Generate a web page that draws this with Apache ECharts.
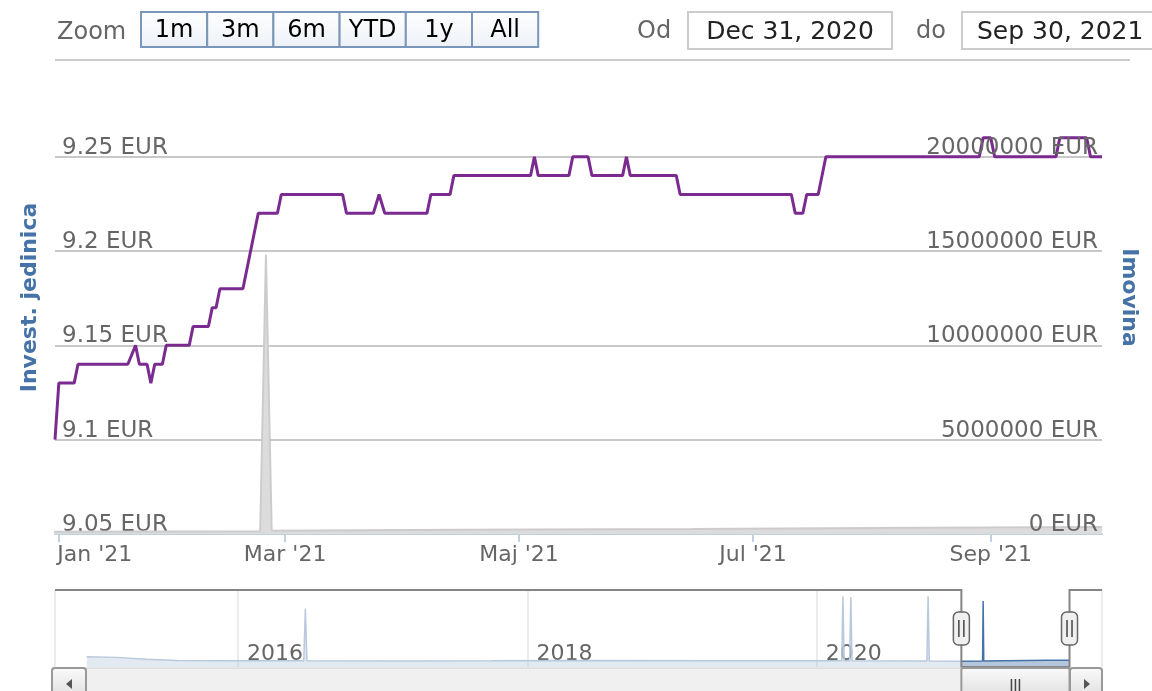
<!DOCTYPE html>
<html>
<head>
<meta charset="utf-8">
<title>Invest. jedinica / Imovina</title>
<script src="https://cdn.jsdelivr.net/npm/echarts@6/dist/echarts.min.js"></script>
<style>
    html, body { margin: 0; padding: 0; background: #fff; }
    #chart { width: 1152px; height: 691px; }
</style>
</head>
<body>
<div id="chart"></div>
<script>
// Values

// Invest. jedinica (EUR) - points where the line turns
const unitDates = ['2020-12-31', '2021-01-01', '2021-01-05', '2021-01-06', '2021-01-19', '2021-01-21', '2021-01-22',
    '2021-01-24', '2021-01-25', '2021-01-26', '2021-01-28', '2021-01-29', '2021-02-04', '2021-02-05', '2021-02-09',
    '2021-02-10', '2021-02-11', '2021-02-12', '2021-02-18', '2021-02-22', '2021-02-27', '2021-02-28', '2021-03-16',
    '2021-03-17', '2021-03-24', '2021-03-25 12:00', '2021-03-27', '2021-04-07', '2021-04-08', '2021-04-13', '2021-04-14',
    '2021-05-04', '2021-05-05', '2021-05-06', '2021-05-14', '2021-05-15', '2021-05-19', '2021-05-20', '2021-05-28',
    '2021-05-29', '2021-05-30', '2021-06-11', '2021-06-12', '2021-07-11', '2021-07-12', '2021-07-14', '2021-07-15',
    '2021-07-18', '2021-07-20', '2021-08-29', '2021-08-30', '2021-09-01', '2021-09-02', '2021-09-18', '2021-09-19',
    '2021-09-26', '2021-09-27', '2021-09-30'];
const unitValues = [9.10, 9.13, 9.13, 9.14, 9.14, 9.15, 9.14,
    9.14, 9.13, 9.14, 9.14, 9.15, 9.15, 9.16, 9.16,
    9.17, 9.17, 9.18, 9.18, 9.22, 9.22, 9.23, 9.23,
    9.22, 9.22, 9.23, 9.22, 9.22, 9.23, 9.23, 9.24,
    9.24, 9.25, 9.24, 9.24, 9.25, 9.25, 9.24, 9.24,
    9.25, 9.24, 9.24, 9.23, 9.23, 9.22, 9.22, 9.23,
    9.23, 9.25, 9.25, 9.26, 9.26, 9.25, 9.25, 9.26,
    9.26, 9.25, 9.25];

// Imovina (EUR) - whole history, shown in the plot and in the navigator
const assetDates = ['2014-12-15', '2015-03-01', '2015-05-15', '2015-08-01', '2015-12-01', '2016-06-15', '2016-06-19',
    '2016-06-23', '2017-03-01', '2017-10-01', '2018-06-01', '2019-04-01', '2019-12-01', '2020-03-04', '2020-03-07',
    '2020-03-10', '2020-03-24', '2020-03-27', '2020-03-30', '2020-10-05', '2020-10-08', '2020-10-11', '2020-12-31',
    '2021-02-22 12:00', '2021-02-24', '2021-02-25 12:00', '2021-04-15', '2021-06-15', '2021-08-01', '2021-09-30'];
const assetValues = [1200000, 1050000, 600000, 300000, 250000, 250000, 13000000,
    200000, 180000, 220000, 300000, 250000, 200000, 200000, 16000000,
    200000, 200000, 15800000, 200000, 150000, 16000000, 150000, 120000,
    150000, 14800000, 170000, 220000, 270000, 320000, 370000];

// selected range
const rangeStart = '2020-12-31';
const rangeEnd = '2021-09-30';
const navStart = '2014-09-26';
const navEnd = '2021-12-21';

// axes
const unitMin = 9.05, unitMax = 9.27, unitStep = 0.05;
const assetMin = 0, assetMax = 22000000, assetStep = 5000000;
const monthNames = ['Jan', 'Feb', 'Mar', 'Apr', 'Maj', 'Jun', 'Jul', 'Aug', 'Sep', 'Okt', 'Nov', 'Dec'];
const inputMonths = ['Jan', 'Feb', 'Mar', 'Apr', 'May', 'Jun', 'Jul', 'Aug', 'Sep', 'Oct', 'Nov', 'Dec'];
const zoomButtons = ['1m', '3m', '6m', 'YTD', '1y', 'All'];

const FONT = 'DejaVu Sans';
const DAY = 86400000;
const labelColor = '#666666';
const titleColor = '#4572A7';

const chart = echarts.init(document.getElementById('chart'));

function toTime(s) {
    return +echarts.time.parse(s);
}

function eur(v) {
    return +v.toFixed(2) + ' EUR';
}

function inputDate(s) {
    const d = echarts.time.parse(s);
    return inputMonths[d.getMonth()] + ' ' + d.getDate() + ', ' + d.getFullYear();
}

function pairs(dates, values) {
    return dates.map((d, i) => [d, values[i]]);
}

const option = {
    animation: false,
    textStyle: { fontFamily: FONT },
    grid: [
        { left: 55, right: 50, top: 119, height: 415 },
        { left: 55, right: 50, top: 590, height: 77 }
    ],
    xAxis: [
        {
            type: 'time',
            gridIndex: 0,
            min: rangeStart,
            max: rangeEnd,
            minInterval: 61 * DAY,
            maxInterval: 62 * DAY,
            axisLine: { lineStyle: { color: '#C0D0E0', width: 2 } },
            axisTick: { show: true, length: 8, lineStyle: { color: '#C0D0E0', width: 2 } },
            splitLine: { show: false },
            axisLabel: {
                margin: 10,
                color: labelColor,
                fontSize: 22,
                fontFamily: FONT,
                formatter: function (value) {
                    const d = new Date(value);
                    const text = monthNames[d.getMonth()] + " '" + String(d.getFullYear()).slice(2);
                    return d.getMonth() === 0 ? '{first|' + text + '}' : text;
                },
                rich: {
                    first: { padding: [0, 0, 0, 72], color: labelColor, fontSize: 22, fontFamily: FONT }
                }
            }
        },
        {
            type: 'time',
            gridIndex: 1,
            min: navStart,
            max: navEnd,
            minInterval: 730 * DAY,
            maxInterval: 732 * DAY,
            axisLine: { show: false },
            axisTick: { show: false },
            splitLine: { show: true, lineStyle: { color: '#e6e6e6', width: 1.5 } },
            axisLabel: {
                inside: true,
                align: 'left',
                verticalAlign: 'bottom',
                margin: 2,
                padding: [0, 0, 0, 9],
                color: labelColor,
                fontSize: 22,
                fontFamily: FONT,
                formatter: function (value) {
                    return String(new Date(value).getFullYear());
                }
            }
        }
    ],
    yAxis: [
        {
            type: 'value',
            gridIndex: 0,
            min: unitMin,
            max: unitMax,
            interval: unitStep,
            name: 'Invest. jedinica',
            nameLocation: 'middle',
            nameRotate: 90,
            nameGap: 14,
            nameTextStyle: { color: titleColor, fontWeight: 'bold', fontSize: 22, fontFamily: FONT, padding: [0, 0, 0, 58] },
            axisLine: { show: false },
            axisTick: { show: false },
            splitLine: { show: true, showMaxLine: false, lineStyle: { color: '#c8c8c8', width: 2 } },
            axisLabel: {
                inside: true,
                margin: 7,
                verticalAlign: 'bottom',
                lineHeight: 18,
                showMaxLabel: false,
                color: labelColor,
                fontSize: 23,
                fontFamily: FONT,
                formatter: eur
            }
        },
        {
            type: 'value',
            gridIndex: 0,
            position: 'right',
            z: 5,
            min: assetMin,
            max: assetMax,
            interval: assetStep,
            name: 'Imovina',
            nameLocation: 'middle',
            nameRotate: -90,
            nameGap: 16,
            nameTextStyle: { color: titleColor, fontWeight: 'bold', fontSize: 22, fontFamily: FONT, padding: [0, 58, 0, 0] },
            axisLine: { show: false },
            axisTick: { show: false },
            splitLine: { show: false },
            axisLabel: {
                inside: true,
                margin: 4,
                verticalAlign: 'bottom',
                lineHeight: 18,
                showMaxLabel: false,
                color: labelColor,
                fontSize: 23,
                fontFamily: FONT,
                formatter: eur
            }
        },
        {
            type: 'value',
            gridIndex: 1,
            min: -1300000,
            max: 17500000,
            show: false
        }
    ],
    visualMap: {
        type: 'piecewise',
        show: false,
        seriesIndex: 2,
        dimension: 0,
        pieces: [{ min: toTime(rangeStart), max: toTime(rangeEnd), color: '#4572A7' }],
        outOfRange: { color: '#b9c9dd' }
    },
    series: [
        {
            name: 'Imovina',
            type: 'line',
            xAxisIndex: 0,
            yAxisIndex: 1,
            data: pairs(assetDates, assetValues),
            showSymbol: false,
            lineStyle: { color: '#cccccc', width: 2 },
            areaStyle: { color: '#dcdcdc', opacity: 1 },
            z: 1
        },
        {
            name: 'Invest. jedinica',
            type: 'line',
            xAxisIndex: 0,
            yAxisIndex: 0,
            data: pairs(unitDates, unitValues),
            showSymbol: false,
            lineStyle: { color: '#7B2B8F', width: 3 },
            z: 3
        },
        {
            name: 'Navigator',
            type: 'line',
            xAxisIndex: 1,
            yAxisIndex: 2,
            data: pairs(assetDates, assetValues),
            showSymbol: false,
            lineStyle: { width: 1.5 },
            areaStyle: { opacity: 0.4, origin: 'start' },
            z: 1
        }
    ]
};

chart.setOption(option);

// Range selector, date inputs, navigator outline and scrollbar
function buildGraphics() {
    const g = [];
    const textStyle = { fontSize: 24, fontFamily: FONT, textVerticalAlign: 'middle' };
    const btnFill = new echarts.graphic.LinearGradient(0, 0, 0, 1, [
        { offset: 0, color: '#ffffff' }, { offset: 1, color: '#edf1f6' }
    ]);

    g.push({ type: 'text', style: Object.assign({ text: 'Zoom', x: 57, y: 33, fill: labelColor }, textStyle) });

    const btnLeft = 141, btnWidth = 66.2;
    zoomButtons.forEach((label, i) => {
        const x = btnLeft + i * btnWidth;
        g.push({ type: 'rect', shape: { x: x, y: 12, width: btnWidth, height: 35 },
            style: { fill: btnFill, stroke: '#7a96b8', lineWidth: 2 } });
        g.push({ type: 'text', style: Object.assign({ text: label, x: x + btnWidth / 2, y: 31, fill: '#000',
            textAlign: 'center' }, textStyle) });
    });

    g.push({ type: 'text', style: Object.assign({ text: 'Od', x: 637, y: 32, fill: labelColor }, textStyle) });
    g.push({ type: 'rect', shape: { x: 688, y: 12, width: 204, height: 37 },
        style: { fill: '#fff', stroke: '#cccccc', lineWidth: 2 } });
    g.push({ type: 'text', style: Object.assign({ text: inputDate(rangeStart), x: 790, y: 32, fill: '#222',
        textAlign: 'center' }, textStyle, { fontSize: 25 }) });
    g.push({ type: 'text', style: Object.assign({ text: 'do', x: 916, y: 32, fill: labelColor }, textStyle) });
    g.push({ type: 'rect', shape: { x: 962, y: 12, width: 204, height: 37 },
        style: { fill: '#fff', stroke: '#cccccc', lineWidth: 2 } });
    g.push({ type: 'text', style: Object.assign({ text: inputDate(rangeEnd), x: 977, y: 32, fill: '#222' }, textStyle, { fontSize: 25 }) });

    g.push({ type: 'line', shape: { x1: 55, y1: 60, x2: 1130, y2: 60 }, style: { stroke: '#cccccc', lineWidth: 2 } });

    // navigator
    const x1 = chart.convertToPixel({ xAxisIndex: 1 }, toTime(rangeStart));
    const x2 = chart.convertToPixel({ xAxisIndex: 1 }, toTime(rangeEnd));
    const top = 590, bottom = 667, left = 55, right = 1102;

    g.push({ type: 'polyline', shape: { points: [[left, top], [x1, top], [x1, bottom], [x2, bottom], [x2, top], [right, top]] },
        style: { fill: 'none', stroke: '#858585', lineWidth: 2 }, z: 10 });

    [x1, x2].forEach((x) => {
        g.push({ type: 'rect', shape: { x: x - 8, y: 612, width: 16, height: 33, r: 5 },
            style: { fill: '#f0f0f0', stroke: '#666', lineWidth: 1.5 }, z: 11 });
        g.push({ type: 'line', shape: { x1: x - 2.5, y1: 620, x2: x - 2.5, y2: 637 }, style: { stroke: '#444', lineWidth: 1.5 }, z: 12 });
        g.push({ type: 'line', shape: { x1: x + 2.5, y1: 620, x2: x + 2.5, y2: 637 }, style: { stroke: '#444', lineWidth: 1.5 }, z: 12 });
    });

    // scrollbar
    const barFill = new echarts.graphic.LinearGradient(0, 0, 0, 1, [
        { offset: 0, color: '#fbfbfb' }, { offset: 1, color: '#e2e2e2' }
    ]);
    g.push({ type: 'rect', shape: { x: 52, y: 668, width: right - 52, height: 26 },
        style: { fill: '#f0f0f0', stroke: '#cccccc', lineWidth: 1 }, z: 10 });
    g.push({ type: 'rect', shape: { x: x1, y: 668, width: x2 - x1, height: 26, r: 2 },
        style: { fill: barFill, stroke: '#999', lineWidth: 2 }, z: 11 });
    const mid = (x1 + x2) / 2;
    [-4, 0, 4].forEach((d) => {
        g.push({ type: 'line', shape: { x1: mid + d, y1: 679, x2: mid + d, y2: 692 }, style: { stroke: '#444', lineWidth: 1.5 }, z: 12 });
    });
    g.push({ type: 'rect', shape: { x: 52, y: 668, width: 34, height: 26, r: 3 },
        style: { fill: barFill, stroke: '#999', lineWidth: 2 }, z: 11 });
    g.push({ type: 'polygon', shape: { points: [[72, 679], [72, 689], [66, 684]] }, style: { fill: '#555' }, z: 12 });
    g.push({ type: 'rect', shape: { x: 1070, y: 668, width: 32, height: 26, r: 3 },
        style: { fill: barFill, stroke: '#999', lineWidth: 2 }, z: 11 });
    g.push({ type: 'polygon', shape: { points: [[1084, 679], [1084, 689], [1090, 684]] }, style: { fill: '#555' }, z: 12 });

    return g;
}

chart.setOption({ graphic: buildGraphics() });
</script>
</body>
</html>
